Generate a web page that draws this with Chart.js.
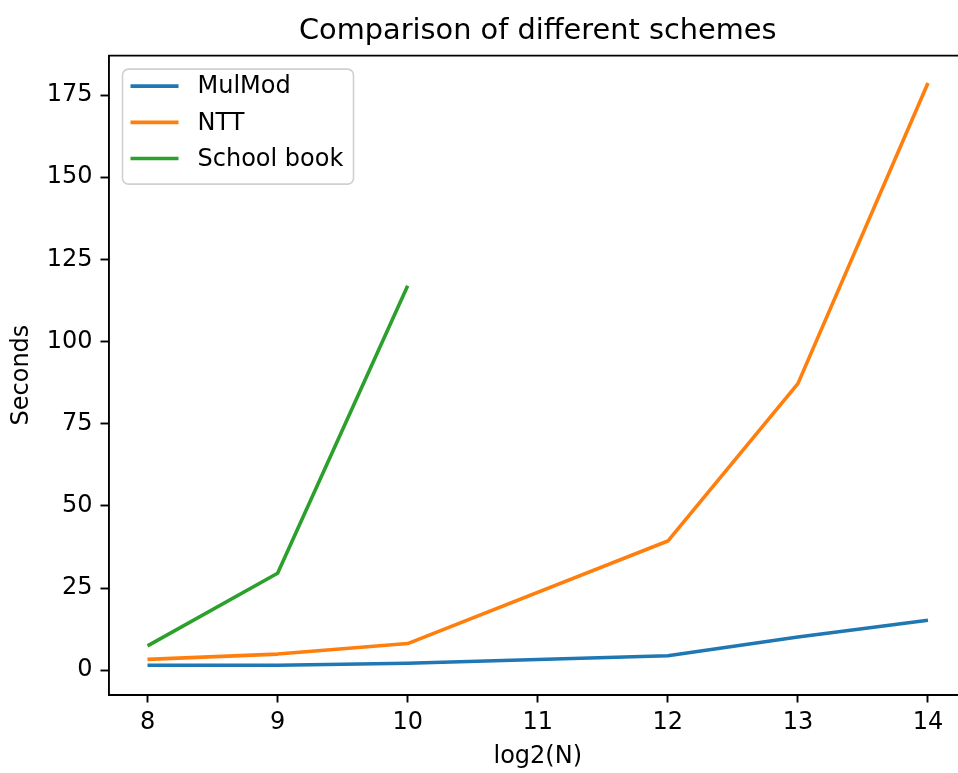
<!DOCTYPE html>
<html>
<head>
<meta charset="utf-8">
<script src="https://cdn.jsdelivr.net/npm/chart.js@4.4.1/dist/chart.umd.min.js"></script>
<style>
  html, body { margin: 0; padding: 0; background: #fff; overflow: hidden; }
  #wrap { width: 1076px; height: 773px; }
</style>
</head>
<body>
<div id="wrap"><canvas id="myChart" width="1076" height="773"></canvas></div>
<script>
// values
const nMulMod = [8, 9, 10, 12, 13, 14];
const mulMod = [1.5, 1.5, 2.1, 4.4, 10.1, 15.2];

const nNTT = [8, 9, 10, 12, 13, 14];
const ntt = [3.3, 4.9, 8.1, 39.3, 87.2, 178.7];

const nSchool = [8, 9, 10];
const schoolBook = [7.4, 29.5, 117];

const xTicks = [8, 9, 10, 11, 12, 13, 14];
const yTicks = [0, 25, 50, 75, 100, 125, 150, 175];

const FONT = "'DejaVu Sans', sans-serif";

function points(xs, ys) {
  return xs.map((x, i) => ({ x: x, y: ys[i] }));
}

// matplotlib-like boxed legend in the upper left of the axes, plus top spine
const frameAndLegend = {
  id: "frameAndLegend",
  afterDraw(chart) {
    const ctx = chart.ctx;
    const a = chart.chartArea;
    ctx.save();
    ctx.strokeStyle = "#000";
    ctx.lineWidth = 1.9;
    ctx.beginPath();
    ctx.moveTo(a.left, a.top);
    ctx.lineTo(a.right, a.top);
    ctx.stroke();

    const x0 = a.left + 14, y0 = a.top + 13.5, w = 231, h = 115;
    ctx.beginPath();
    ctx.roundRect(x0, y0, w, h, 6);
    ctx.fillStyle = "rgba(255,255,255,0.8)";
    ctx.fill();
    ctx.strokeStyle = "#d0d0d0";
    ctx.lineWidth = 1.6;
    ctx.stroke();

    ctx.font = "24px " + FONT;
    ctx.textBaseline = "middle";
    ctx.textAlign = "left";
    chart.data.datasets.forEach((ds, i) => {
      const yy = y0 + 17 + i * 36.2;
      ctx.strokeStyle = ds.borderColor;
      ctx.lineWidth = 3.6;
      ctx.beginPath();
      ctx.moveTo(x0 + 8, yy);
      ctx.lineTo(x0 + 56, yy);
      ctx.stroke();
      ctx.fillStyle = "#000";
      ctx.fillText(ds.label, x0 + 75, yy + 1);
    });
    ctx.restore();
  }
};

const config = {
  type: "line",
  data: {
    datasets: [
      { label: "MulMod", data: points(nMulMod, mulMod), borderColor: "#1f77b4", backgroundColor: "#1f77b4" },
      { label: "NTT", data: points(nNTT, ntt), borderColor: "#ff7f0e", backgroundColor: "#ff7f0e" },
      { label: "School book", data: points(nSchool, schoolBook), borderColor: "#2ca02c", backgroundColor: "#2ca02c" }
    ]
  },
  options: {
    responsive: false,
    animation: false,
    // the axes run past the right edge of the picture, as in the cropped original
    layout: { padding: { left: 0, right: 109, top: 0, bottom: 0 } },
    elements: {
      line: { borderWidth: 3.6, tension: 0, borderCapStyle: "butt", borderJoinStyle: "round" },
      point: { radius: 0, hoverRadius: 0 }
    },
    plugins: {
      legend: { display: false },
      tooltip: { enabled: false },
      title: {
        display: true,
        fullSize: false,
        text: "Comparison of different schemes",
        color: "#000",
        font: { family: FONT, size: 28.8, weight: "normal" },
        padding: { top: 14.7, bottom: 6.4 }
      }
    },
    scales: {
      x: {
        type: "linear",
        min: 7.7,
        max: 14.3,
        afterFit(scale) { scale.height = 78.5; },
        afterBuildTicks(scale) { scale.ticks = xTicks.map(v => ({ value: v })); },
        grid: { drawOnChartArea: false, drawTicks: true, tickLength: 8, tickWidth: 1.9, tickColor: "#000" },
        border: { display: true, color: "#000", width: 1.9 },
        ticks: { color: "#000", font: { family: FONT, size: 24 }, padding: 6, maxRotation: 0, autoSkip: false },
        title: {
          display: true,
          text: "log2(N)",
          color: "#000",
          font: { family: FONT, size: 24 },
          padding: { top: 0, bottom: 2 }
        }
      },
      y: {
        type: "linear",
        min: -7.4,
        max: 187,
        afterFit(scale) { scale.width = 108.5; },
        afterBuildTicks(scale) { scale.ticks = yTicks.map(v => ({ value: v })); },
        grid: { drawOnChartArea: false, drawTicks: true, tickLength: 8, tickWidth: 1.9, tickColor: "#000" },
        border: { display: true, color: "#000", width: 1.9 },
        ticks: { color: "#000", font: { family: FONT, size: 24 }, padding: 8, autoSkip: false },
        title: {
          display: true,
          text: "Seconds",
          color: "#000",
          font: { family: FONT, size: 24 },
          padding: { top: 7, bottom: 0 }
        }
      }
    }
  },
  plugins: [frameAndLegend]
};

const myChart = new Chart(document.getElementById("myChart"), config);
</script>
</body>
</html>
